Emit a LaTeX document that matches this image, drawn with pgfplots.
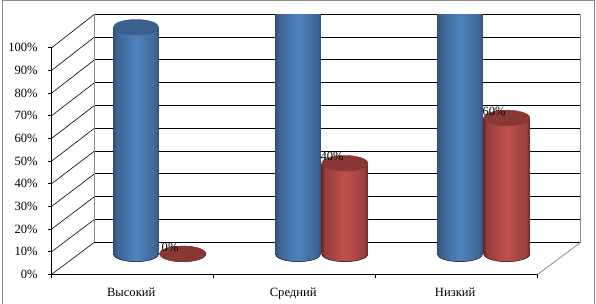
\documentclass[border=0pt]{standalone}
\usepackage{fontspec}
\setmainfont{Liberation Serif}
\usepackage{pgfplots}
\pgfplotsset{compat=1.18}
\definecolor{btop}{HTML}{395F8C}
\definecolor{rtop}{HTML}{8A3836}
\pgfdeclarehorizontalshading{cylb}{100bp}{rgb(0bp)=(0.19,0.31,0.46);rgb(25bp)=(0.19,0.31,0.46);rgb(29bp)=(0.24,0.39,0.58);rgb(50bp)=(0.31,0.51,0.74);rgb(71bp)=(0.24,0.40,0.59);rgb(75bp)=(0.19,0.31,0.46);rgb(100bp)=(0.19,0.31,0.46)}
\pgfdeclarehorizontalshading{cylr}{100bp}{rgb(0bp)=(0.42,0.16,0.16);rgb(25bp)=(0.42,0.16,0.16);rgb(29bp)=(0.60,0.25,0.24);rgb(50bp)=(0.75,0.31,0.30);rgb(71bp)=(0.61,0.25,0.25);rgb(75bp)=(0.40,0.15,0.15);rgb(100bp)=(0.40,0.15,0.15)}
\pgfdeclareplotmark{bbase}{\path[shading=cylb] (0pt,0pt) ellipse [x radius=22.8pt,y radius=7.8pt];}
\pgfdeclareplotmark{rbase}{\path[shading=cylr] (0pt,0pt) ellipse [x radius=23.1pt,y radius=7.8pt];}
\pgfdeclareplotmark{btopm}{\fill[btop] (0pt,0pt) ellipse [x radius=22.8pt,y radius=7.8pt];}
\pgfdeclareplotmark{rtopm}{\fill[rtop] (0pt,0pt) ellipse [x radius=23.1pt,y radius=7.8pt];}
\begin{document}
\begin{tikzpicture}[x=1pt,y=1pt]
\useasboundingbox (0,0) rectangle (596,304);
\fill[white] (0,0) rectangle (596,304);
\draw[color=black!45,line width=1pt] (2.5,0) -- (2.5,303.5) -- (594,303.5) -- (594,0);
% front plane: scale, ticks, walls
\begin{axis}[
  at={(51.7pt,29.7pt)},anchor=south west,
  scale only axis,width=486pt,height=226.6pt,
  xmin=0,xmax=3,ymin=0,ymax=100,
  clip=false,
  axis x line*=bottom,axis y line*=left,
  axis line style={-,black,line width=1pt},
  xtick={0,1,2,3},xticklabels={},
  extra x ticks={0.5,1.5,2.5},
  extra x tick labels={Высокий,Средний,Низкий},
  extra x tick style={major tick length=0pt,
    tick label style={font=\fontsize{12.6}{14}\selectfont,yshift=-10.5pt,xshift=-1.5pt}},
  ytick={0,10,...,100},
  yticklabel={\pgfmathprintnumber{\tick}\%},
  /pgf/number format/assume math mode=true,
  y tick label style={font=\fontsize{12.6}{14}\selectfont,xshift=-7pt},
  tick style={black,line width=0.8pt},
  major tick length=3.5pt,
  tick align=outside,
]
\pgfplotsinvokeforeach{0,10,...,100}{
  \draw[black,line width=0.6pt] (axis cs:0,#1) -- ++(42.7pt,{32pt+0.014pt*#1});
  \draw[black,line width=1pt] (axis cs:0,#1) ++(42.7pt,{32pt+0.014pt*#1}) -- ++(486pt,0pt);
}
\draw[black!45,line width=0.8pt] (axis cs:0,0) ++(42.7pt,32pt) -- ++(0pt,228pt);
\draw[black!45,line width=0.8pt] (axis cs:3,0) ++(43pt,32pt) -- ++(0pt,228pt);
\draw[black!45,line width=0.8pt] (axis cs:3,0) -- ++(43pt,32pt);
\end{axis}
% cylinders
\begin{axis}[
  at={(78.4pt,27.44pt)},anchor=south west,
  scale only axis,width=486pt,height=261.95pt,
  xmin=0,xmax=3,ymin=-10,ymax=105.6,
  hide axis,
  clip mode=individual,
  bluebar/.style={ybar,bar shift=0pt,bar width=45.6pt,draw=none,shading=cylb},
  redbar/.style={ybar,bar shift=0pt,bar width=46.2pt,draw=none,shading=cylr},
]
% blue series
\addplot[only marks,mark=bbase] coordinates {(0.3555,0) (1.3555,0) (2.3555,0)};
\addplot[bluebar] coordinates {(0.3555,100)};
\addplot[bluebar] coordinates {(1.3555,120)};
\addplot[bluebar] coordinates {(2.3555,120)};
\addplot[only marks,mark=btopm] coordinates {(0.3555,100)};
% red series
\addplot[only marks,mark=rbase] coordinates {(0.6445,0) (1.6445,0) (2.6445,0)};
\addplot[redbar] coordinates {(1.6445,40)};
\addplot[redbar] coordinates {(2.6445,60)};
\addplot[only marks,mark=rtopm,
  nodes near coords={\pgfmathprintnumber{\pgfplotspointmeta}\%},
  point meta=y,
  every node near coord/.append style={anchor=center,xshift=-12.7pt,yshift=6.5pt,font=\fontsize{12.6}{14}\selectfont,inner sep=0pt,/pgf/number format/assume math mode=true},
] coordinates {(0.6445,0) (1.6445,40) (2.6445,60)};
\end{axis}
\end{tikzpicture}
\end{document}
